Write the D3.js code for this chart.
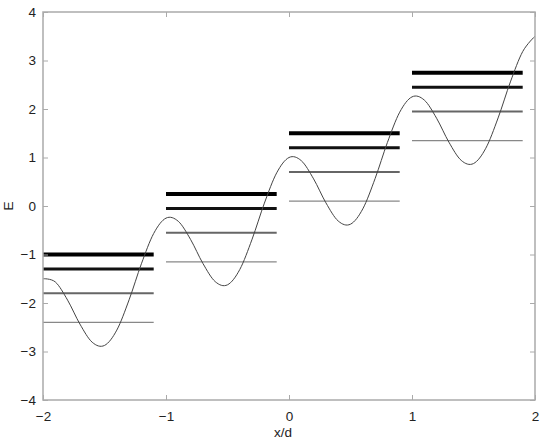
<!DOCTYPE html>
<html><head><meta charset="utf-8">
<script src="https://cdn.jsdelivr.net/npm/d3@7"></script>
<style>body{margin:0;background:#fff}svg{display:block}</style>
</head><body><svg id="c" width="545" height="440"></svg>
<script>
const curveX = [-2.0,-1.9,-1.8,-1.7,-1.6,-1.5,-1.4,-1.3,-1.2,-1.1,-1.0,-0.9,-0.8,-0.7,-0.6,-0.5,-0.4,-0.3,-0.2,-0.1,0.0,0.1,0.2,0.3,0.4,0.5,0.6,0.7,0.8,0.9,1.0,1.1,1.2,1.3,1.4,1.5,1.6,1.7,1.8,1.9,2.0];
const curveY = [-1.5,-1.566,-1.941,-2.434,-2.809,-2.875,-2.559,-1.934,-1.191,-0.566,-0.25,-0.316,-0.691,-1.184,-1.559,-1.625,-1.309,-0.684,0.059,0.684,1.0,0.934,0.559,0.066,-0.309,-0.375,-0.059,0.566,1.309,1.934,2.25,2.184,1.809,1.316,0.941,0.875,1.191,1.816,2.559,3.184,3.5];
const groupStart = [-2, -1, 0, 1];
const groupEnd = [-1.1, -0.1, 0.9, 1.9];
const level1 = [-1.0, 0.25, 1.5, 2.75];
const level2 = [-1.3, -0.05, 1.2, 2.45];
const level3 = [-1.8, -0.55, 0.7, 1.95];
const level4 = [-2.4, -1.15, 0.1, 1.35];
const xTicks = [-2, -1, 0, 1, 2];
const yTicks = [-4, -3, -2, -1, 0, 1, 2, 3, 4];

const svg = d3.select("#c");
const L = 43, R = 535, T = 12, B = 400;
const x = d3.scaleLinear().domain([-2, 2]).range([L, R]);
const y = d3.scaleLinear().domain([-4, 4]).range([B, T]);
const font = "'Liberation Sans', Arial, Helvetica, sans-serif";

const levels = [
  {vals: level1, w: 4, c: "#000"},
  {vals: level2, w: 3, c: "#111"},
  {vals: level3, w: 2, c: "#666"},
  {vals: level4, w: 1.2, c: "#888"}
];
levels.forEach(lv => {
  svg.append("g").selectAll("line").data(groupStart).join("line")
    .attr("x1", (d,i) => x(groupStart[i]))
    .attr("x2", (d,i) => x(groupEnd[i]))
    .attr("y1", (d,i) => y(lv.vals[i]))
    .attr("y2", (d,i) => y(lv.vals[i]))
    .attr("stroke", lv.c).attr("stroke-width", lv.w);
});

const pts = curveX.map((v,i) => [v, curveY[i]]);
svg.append("path").datum(pts)
  .attr("d", d3.line().x(d => x(d[0])).y(d => y(d[1])).curve(d3.curveCardinal.tension(0)))
  .attr("fill", "none").attr("stroke", "#444").attr("stroke-width", 1);

const axCol = "#aaa";
function styleAxis(g, labels) {
  g.select(".domain").remove();
  g.selectAll(".tick line").attr("stroke", axCol);
  g.selectAll(".tick text").attr("fill", labels ? "#222" : "none")
    .style("font-family", font).style("font-size", "13.5px");
}
const fmt = d => d3.format("")(d).replace("-", "\u2212");
svg.append("g").attr("transform", `translate(0,${B})`)
  .call(d3.axisBottom(x).tickValues(xTicks).tickSize(-5).tickPadding(11).tickFormat(fmt))
  .call(g => styleAxis(g, true));
svg.append("g").attr("transform", `translate(0,${T})`)
  .call(d3.axisTop(x).tickValues(xTicks).tickSize(-5).tickFormat(""))
  .call(g => styleAxis(g, false));
svg.append("g").attr("transform", `translate(${L},0)`)
  .call(d3.axisLeft(y).tickValues(yTicks).tickSize(-5).tickPadding(7).tickFormat(fmt))
  .call(g => styleAxis(g, true));
svg.append("g").attr("transform", `translate(${R},0)`)
  .call(d3.axisRight(y).tickValues(yTicks).tickSize(-5).tickFormat(""))
  .call(g => styleAxis(g, false));

svg.append("rect").attr("x", L).attr("y", T).attr("width", R - L).attr("height", B - T)
  .attr("fill", "none").attr("stroke", axCol).attr("stroke-width", 1.5);

svg.append("text").attr("x", x(0) - 6).attr("y", 437).attr("text-anchor", "middle")
  .style("font-family", font).style("font-size", "13.5px").attr("fill", "#222").text("x/d");
svg.append("text").attr("transform", `translate(13,${(T + B) / 2}) rotate(-90)`).attr("text-anchor", "middle")
  .style("font-family", font).style("font-size", "13.5px").attr("fill", "#222").text("E");
</script></body></html>
